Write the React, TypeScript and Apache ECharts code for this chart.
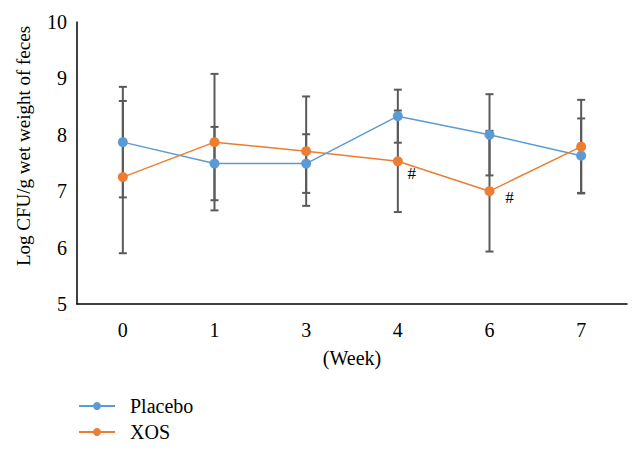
import React, { useEffect, useRef } from "react";
import * as echarts from "echarts";

const weeks = ["0", "1", "3", "4", "6", "7"];
const placebo = [7.87, 7.49, 7.49, 8.33, 8.0, 7.63];
const placeboErr = [0.98, 0.65, 0.52, 0.47, 0.72, 0.66];
const xos = [7.25, 7.87, 7.71, 7.53, 7.0, 7.79];
const xosErr = [1.35, 1.21, 0.97, 0.9, 1.07, 0.83];
const xosMarks = ["", "", "", "#", "#", ""];

const FONT = "'Liberation Serif', 'Times New Roman', serif";
const FS = 20;

export default function App() {
  const ref = useRef<HTMLDivElement>(null);
  useEffect(() => {
    if (!ref.current) return;
    const chart = echarts.init(ref.current, undefined, { renderer: "svg" });
    const errData: number[][] = [];
    placebo.forEach((v, i) => errData.push([i, v - placeboErr[i], v + placeboErr[i]]));
    xos.forEach((v, i) => errData.push([i, v - xosErr[i], v + xosErr[i]]));
    const markOffsets: Record<number, number[]> = { 3: [14, 12], 4: [20, 6] };
    chart.setOption({
      animation: false,
      textStyle: { fontFamily: FONT },
      grid: { left: 77, right: 14, top: 22, bottom: 148 },
      legend: {
        data: ["Placebo", "XOS"],
        orient: "vertical",
        left: 73,
        top: 391,
        itemWidth: 36,
        itemHeight: 10,
        itemGap: 6,
        textStyle: { fontFamily: FONT, fontSize: FS, color: "#000", padding: [0, 0, 0, 10] },
      },
      xAxis: {
        type: "category",
        data: weeks,
        boundaryGap: true,
        name: "(Week)",
        nameLocation: "middle",
        nameGap: 44,
        nameTextStyle: { fontFamily: FONT, fontSize: FS, color: "#000" },
        axisLine: { lineStyle: { color: "#000", width: 1.5 } },
        axisTick: { show: false },
        axisLabel: { fontFamily: FONT, fontSize: FS, color: "#000", margin: 16 },
      },
      yAxis: {
        type: "value",
        min: 5,
        max: 10,
        interval: 1,
        name: "Log CFU/g wet weight of feces",
        nameLocation: "middle",
        nameGap: 44,
        nameTextStyle: { fontFamily: FONT, fontSize: 19, color: "#000", padding: [0, 0, 0, 34] },
        axisLine: { show: true, lineStyle: { color: "#000", width: 1.5 } },
        axisTick: { show: false },
        splitLine: { show: false },
        axisLabel: { fontFamily: FONT, fontSize: FS, color: "#000", margin: 10 },
      },
      series: [
        {
          type: "custom",
          name: "err",
          z: 1,
          data: errData,
          renderItem: (params: any, api: any) => {
            const x = api.value(0);
            const lo = api.coord([x, api.value(1)]);
            const hi = api.coord([x, api.value(2)]);
            const hw = 4;
            const style = { stroke: "#5a5a5a", lineWidth: 2 };
            return {
              type: "group",
              children: [
                { type: "line", shape: { x1: lo[0], y1: lo[1], x2: hi[0], y2: hi[1] }, style },
                { type: "line", shape: { x1: lo[0] - hw, y1: lo[1], x2: lo[0] + hw, y2: lo[1] }, style },
                { type: "line", shape: { x1: hi[0] - hw, y1: hi[1], x2: hi[0] + hw, y2: hi[1] }, style },
              ],
            };
          },
        },
        {
          type: "line",
          name: "Placebo",
          z: 3,
          data: placebo,
          symbol: "circle",
          symbolSize: 10,
          itemStyle: { color: "#5B9BD5" },
          lineStyle: { color: "#5B9BD5", width: 1.5 },
        },
        {
          type: "line",
          name: "XOS",
          z: 3,
          data: xos.map((v, i) =>
            xosMarks[i]
              ? {
                  value: v,
                  label: {
                    show: true,
                    formatter: xosMarks[i],
                    position: "inside",
                    offset: markOffsets[i],
                    fontFamily: FONT,
                    fontSize: 17,
                    color: "#000",
                  },
                }
              : v
          ),
          symbol: "circle",
          symbolSize: 10,
          itemStyle: { color: "#ED7D31" },
          lineStyle: { color: "#ED7D31", width: 1.5 },
        },
      ],
    });
    return () => chart.dispose();
  }, []);
  return <div ref={ref} style={{ width: 641, height: 452, position: "absolute", left: 0, top: 0 }} />;
}
